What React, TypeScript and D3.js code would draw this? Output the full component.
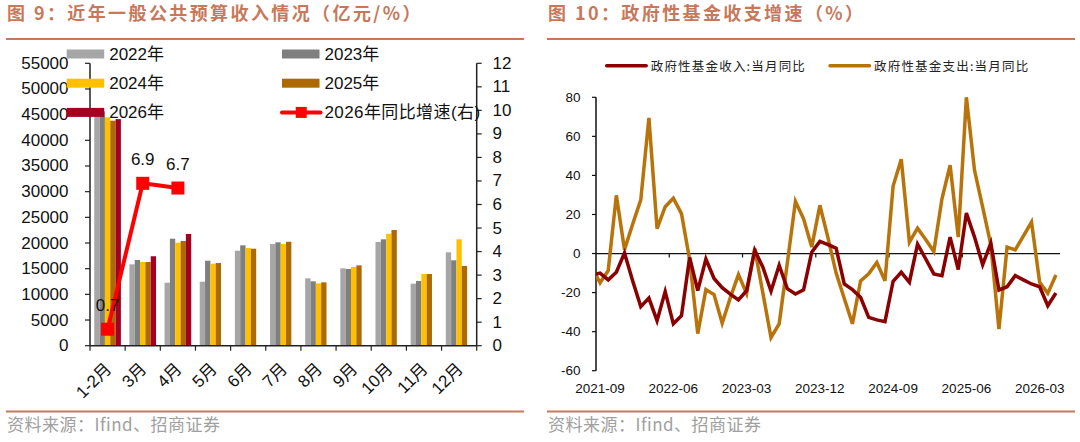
// Externals
import * as d3 from 'd3'
import React, { useEffect, useRef } from 'react'

const WIDTH = 1080
const HEIGHT = 442

// General public budget revenue, 100 million yuan
const months = ['1-2月', '3月', '4月', '5月', '6月', '7月', '8月', '9月', '10月', '11月', '12月']
const years = ['2022年', '2023年', '2024年', '2025年', '2026年']
const rev2022 = [45530, 15850, 12270, 12460, 18500, 19800, 13120, 15070, 20200, 12080, 18190]
const rev2023 = [45640, 16690, 20840, 16550, 19550, 20140, 12540, 14940, 20720, 12600, 16630]
const rev2024 = [44480, 16300, 20060, 15970, 19030, 19800, 12150, 15330, 21810, 13960, 20720]
const rev2025 = [43820, 16300, 20390, 16100, 18890, 20250, 12340, 15650, 22530, 13960, 15520]
const rev2026 = [44130, 17420, 21760]
const yoy2026 = [0.7, 6.9, 6.7]
const leftTicks = [0, 5000, 10000, 15000, 20000, 25000, 30000, 35000, 40000, 45000, 50000, 55000]
const rightTicks = [0, 1, 2, 3, 4, 5, 6, 7, 8, 9, 10, 11, 12]

// Government fund revenue / expenditure, monthly yoy %
const fundMonths = d3.timeMonth
  .range(new Date(2021, 7, 1), new Date(2026, 5, 1))
  .map(d3.timeFormat('%Y-%m'))
const fundIncome = [
  -11, -10, -13.5, -9.6, 0.3, -13.9, -27.2, -22.8, -34.4, -19.5, -36, -31.8,
  -2, -19, -2.8, -12.8, -17.5, -20.8, -23.8, -19, 1.7, -7, -19.3, -6,
  -18, -20.7, -18.6, 0.7, 6.2, 4.6, 2.7, -15.6, -18.5, -22.4, -32.7, -34,
  -34.9, -14.2, -9.6, -14.7, 4.8, -2.7, -10.4, -11.3, 8.4, -8.2, 20.7, 8.4,
  -5.7, 5.3, -18.7, -17, -11.3, -13.5, -15.6, -17, -26.7, -20.2,
]
const fundSpend = [
  -7, -15, -8.7, 29.8, 2, 15, 27.5, 69.5, 12.7, 24, 28.3, 20.4,
  -3, -41, -18.5, -21, -35.7, -22.6, -10.8, -20.5, 2.5, -20.3, -43, -36,
  -5, 26.7, 17.8, 3.3, 24.7, 8, -10, -23, -36, -14, -10.4, -4.6,
  -14, 34.6, 48.3, 5.8, 13, 7.2, 1, 28, 45.2, 8.4, 80, 42.6,
  23.8, 4.6, -38.7, 3.3, 1.9, 8.9, 16.1, -14.7, -20.4, -11,
]
const fundTickLabels = ['2021-09', '2022-06', '2023-03', '2023-12', '2024-09', '2025-06', '2026-03']
const fundTicks = [-60, -40, -20, 0, 20, 40, 60, 80]

const barColors = ['#a6a6a6', '#7f7f7f', '#ffc000', '#ad6a00', '#a50021']
const accent = '#c8785a'
const font = '"Liberation Sans", Arial, "Noto Sans CJK SC", sans-serif'
const cjk = '"Noto Sans CJK SC", "Liberation Sans", sans-serif'


const App = () => {
  const svgRef = useRef<any>(null)

  useEffect(() => {
    if (!svgRef.current) return
    const svg = d3.select(svgRef.current)
    svg.selectAll('*').remove()

    // ---------- headers and footers ----------
    const panels = [
      { x0: 6, x1: 524, title: '图 9：近年一般公共预算收入情况（亿元/%）' },
      { x0: 547, x1: 1075, title: '图 10：政府性基金收支增速（%）' },
    ]
    panels.forEach((p) => {
      svg.append('text')
        .attr('x', p.x0 + 1)
        .attr('y', 20)
        .attr('font-family', cjk)
        .attr('font-size', 18)
        .attr('font-weight', 600)
        .attr('letter-spacing', 2.4)
        .attr('fill', accent)
        .text(p.title)
      svg.append('line')
        .attr('x1', p.x0).attr('x2', p.x1)
        .attr('y1', 39).attr('y2', 39)
        .attr('stroke', accent).attr('stroke-width', 2)
      svg.append('line')
        .attr('x1', p.x0).attr('x2', p.x1)
        .attr('y1', 411.5).attr('y2', 411.5)
        .attr('stroke', accent).attr('stroke-width', 2)
      svg.append('text')
        .attr('x', p.x0 + 1)
        .attr('y', 431)
        .attr('font-family', cjk)
        .attr('font-size', 17)
        .attr('letter-spacing', 0.5)
        .attr('fill', '#a0a0a0')
        .text('资料来源：Ifind、招商证券')
    })

    // ---------- left panel: grouped bars + growth line ----------
    const left = svg.append('g')
    const x = d3.scaleBand().domain(months).range([90, 476.7]).paddingInner(0)
    const xs = d3.scaleBand().domain(years).range([0, x.bandwidth()]).paddingOuter(0.8)
    const y = d3.scaleLinear().domain([0, 55000]).range([345.7, 63.3])
    const yR = d3.scaleLinear().domain([0, 12]).range([345.7, 63.3])

    const series = [rev2022, rev2023, rev2024, rev2025, rev2026]
    series.forEach((vals, si) => {
      left.selectAll(`.bar-${si}`)
        .data(vals)
        .enter()
        .append('rect')
        .attr('x', (d, i) => (x(months[i]) as number) + (xs(years[si]) as number))
        .attr('y', (d) => y(d))
        .attr('width', xs.bandwidth())
        .attr('height', (d) => y(0) - y(d))
        .attr('fill', barColors[si])
    })

    // axes
    const axisColor = '#222'
    left.append('line')
      .attr('x1', 90).attr('x2', 90).attr('y1', y(55000)).attr('y2', y(0))
      .attr('stroke', axisColor).attr('stroke-width', 1.5)
    left.append('line')
      .attr('x1', 476.7).attr('x2', 476.7).attr('y1', yR(12)).attr('y2', yR(0))
      .attr('stroke', axisColor).attr('stroke-width', 1.5)
    left.append('line')
      .attr('x1', 90).attr('x2', 476.7).attr('y1', y(0)).attr('y2', y(0))
      .attr('stroke', axisColor).attr('stroke-width', 1.5)

    leftTicks.forEach((t) => {
      left.append('line')
        .attr('x1', 85).attr('x2', 90).attr('y1', y(t)).attr('y2', y(t))
        .attr('stroke', axisColor).attr('stroke-width', 1.2)
      left.append('text')
        .attr('x', 68.5).attr('y', y(t))
        .attr('text-anchor', 'end').attr('dominant-baseline', 'central')
        .attr('font-family', font).attr('font-size', 17).attr('fill', '#111')
        .text(t)
    })
    rightTicks.forEach((t) => {
      left.append('line')
        .attr('x1', 476.7).attr('x2', 481.7).attr('y1', yR(t)).attr('y2', yR(t))
        .attr('stroke', axisColor).attr('stroke-width', 1.2)
      left.append('text')
        .attr('x', 492.5).attr('y', yR(t))
        .attr('dominant-baseline', 'central')
        .attr('font-family', font).attr('font-size', 17).attr('fill', '#111')
        .text(t)
    })
    months.forEach((m, i) => {
      const bx = (x(m) as number)
      left.append('line')
        .attr('x1', bx).attr('x2', bx).attr('y1', y(0)).attr('y2', y(0) + 5)
        .attr('stroke', axisColor).attr('stroke-width', 1.2)
      if (i === months.length - 1) {
        left.append('line')
          .attr('x1', bx + x.bandwidth()).attr('x2', bx + x.bandwidth())
          .attr('y1', y(0)).attr('y2', y(0) + 5)
          .attr('stroke', axisColor).attr('stroke-width', 1.2)
      }
      const cx = bx + x.bandwidth() / 2
      left.append('text')
        .attr('transform', `translate(${cx + 1}, 366) rotate(-45)`)
        .attr('text-anchor', 'end').attr('dominant-baseline', 'central')
        .attr('font-family', font).attr('font-size', 17).attr('fill', '#111')
        .text(m)
    })

    // growth line on right axis
    const cxOf = (i: number) => (x(months[i]) as number) + x.bandwidth() / 2
    const growthLine = d3.line<number>()
      .x((d, i) => cxOf(i))
      .y((d) => yR(d))
    left.append('path')
      .datum(yoy2026)
      .attr('d', growthLine)
      .attr('fill', 'none')
      .attr('stroke', '#ff0000')
      .attr('stroke-width', 4)
    left.selectAll('.yoy-mark')
      .data(yoy2026)
      .enter()
      .append('rect')
      .attr('x', (d, i) => cxOf(i) - 6.5)
      .attr('y', (d) => yR(d) - 6.5)
      .attr('width', 13).attr('height', 13)
      .attr('fill', '#ff0000')
    left.selectAll('.yoy-label')
      .data(yoy2026)
      .enter()
      .append('text')
      .attr('x', (d, i) => cxOf(i))
      .attr('y', (d) => yR(d) - 24)
      .attr('text-anchor', 'middle').attr('dominant-baseline', 'central')
      .attr('font-family', font).attr('font-size', 17).attr('fill', '#111')
      .text((d) => d.toFixed(1))

    // legend
    const legendItems = [
      { label: '2022年', color: barColors[0], col: 0, row: 0 },
      { label: '2023年', color: barColors[1], col: 1, row: 0 },
      { label: '2024年', color: barColors[2], col: 0, row: 1 },
      { label: '2025年', color: barColors[3], col: 1, row: 1 },
      { label: '2026年', color: barColors[4], col: 0, row: 2 },
      { label: '2026年同比增速(右)', color: '#ff0000', col: 1, row: 2, line: true },
    ]
    legendItems.forEach((it) => {
      const lx = it.col === 0 ? 66.7 : 282
      const ly = 54 + it.row * 29.2
      if (it.line) {
        left.append('line')
          .attr('x1', lx).attr('x2', lx + 38.5).attr('y1', ly).attr('y2', ly)
          .attr('stroke', it.color).attr('stroke-width', 4).attr('stroke-linecap', 'round')
        left.append('rect')
          .attr('x', lx + 19.25 - 5.5).attr('y', ly - 5.5)
          .attr('width', 11).attr('height', 11).attr('fill', it.color)
      } else {
        left.append('rect')
          .attr('x', lx).attr('y', ly - 4.5)
          .attr('width', 37.5).attr('height', 9)
          .attr('fill', it.color)
      }
      left.append('text')
        .attr('x', lx + 42.5).attr('y', ly)
        .attr('dominant-baseline', 'central')
        .attr('font-family', font).attr('font-size', 17).attr('fill', '#111')
        .attr('letter-spacing', it.line ? 0.4 : 0)
        .text(it.label)
    })

    // ---------- right panel: fund yoy lines ----------
    const right = svg.append('g')
    const plotL = 596
    const plotR = 1060
    const fx = d3.scaleBand()
      .domain(fundMonths)
      .range([plotL - (plotR - plotL) / (fundMonths.length - 1), plotR])
      .paddingInner(0)
    const fxc = (m: string) => (fx(m) as number) + fx.bandwidth() / 2
    const fy = d3.scaleLinear().domain([-60, 80]).range([370.7, 97.3])

    svg.append('defs').append('clipPath')
      .attr('id', 'fund-clip')
      .append('rect')
      .attr('x', plotL).attr('y', 80).attr('width', plotR - plotL + 10).attr('height', 310)

    // zero line
    right.append('line')
      .attr('x1', plotL).attr('x2', plotR).attr('y1', fy(0)).attr('y2', fy(0))
      .attr('stroke', '#111').attr('stroke-width', 1.2)
    fundTickLabels.forEach((lab) => {
      const tx = fx(lab) as number
      if (tx > plotL + 1) {
        right.append('line')
          .attr('x1', tx).attr('x2', tx).attr('y1', fy(0)).attr('y2', fy(0) + 4)
          .attr('stroke', '#111').attr('stroke-width', 1.2)
      }
      right.append('text')
        .attr('x', fxc(lab)).attr('y', 388)
        .attr('text-anchor', 'middle').attr('dominant-baseline', 'central')
        .attr('font-family', font).attr('font-size', 13.5).attr('fill', '#111')
        .text(lab)
    })

    // y axis
    right.append('line')
      .attr('x1', plotL).attr('x2', plotL).attr('y1', fy(80)).attr('y2', fy(-60))
      .attr('stroke', '#111').attr('stroke-width', 1.5)
    fundTicks.forEach((t) => {
      right.append('line')
        .attr('x1', plotL - 4).attr('x2', plotL).attr('y1', fy(t)).attr('y2', fy(t))
        .attr('stroke', '#111').attr('stroke-width', 1.2)
      right.append('text')
        .attr('x', 580.5).attr('y', fy(t))
        .attr('text-anchor', 'end').attr('dominant-baseline', 'central')
        .attr('font-family', font).attr('font-size', 13.5).attr('fill', '#111')
        .text(t)
    })

    const fundSeries = [
      { name: '政府性基金收入:当月同比', values: fundIncome, color: '#8b0000', lx: 606.7 },
      { name: '政府性基金支出:当月同比', values: fundSpend, color: '#b8730a', lx: 830 },
    ]
    const fundLine = d3.line<number>()
      .x((d, i) => fxc(fundMonths[i]))
      .y((d) => fy(d))
    // expenditure drawn first so revenue sits on top
    ;[fundSeries[1], fundSeries[0]].forEach((s) => {
      right.append('path')
        .datum(s.values)
        .attr('clip-path', 'url(#fund-clip)')
        .attr('d', fundLine)
        .attr('fill', 'none')
        .attr('stroke', s.color)
        .attr('stroke-width', 3.5)
        .attr('stroke-linejoin', 'miter')
    })
    fundSeries.forEach((s) => {
      right.append('line')
        .attr('x1', s.lx).attr('x2', s.lx + 39.5).attr('y1', 65.7).attr('y2', 65.7)
        .attr('stroke', s.color).attr('stroke-width', 3.5).attr('stroke-linecap', 'round')
      right.append('text')
        .attr('x', s.lx + 44).attr('y', 65.7)
        .attr('dominant-baseline', 'central')
        .attr('font-family', cjk).attr('font-size', 12.5).attr('letter-spacing', 1.2)
        .attr('fill', '#222')
        .text(s.name)
    })
  }, [])

  return (
    <svg
      ref={svgRef}
      width={WIDTH}
      height={HEIGHT}
      style={{ position: 'absolute', left: 0, top: 0, background: '#fff' }}
    />
  )
}

export default App
